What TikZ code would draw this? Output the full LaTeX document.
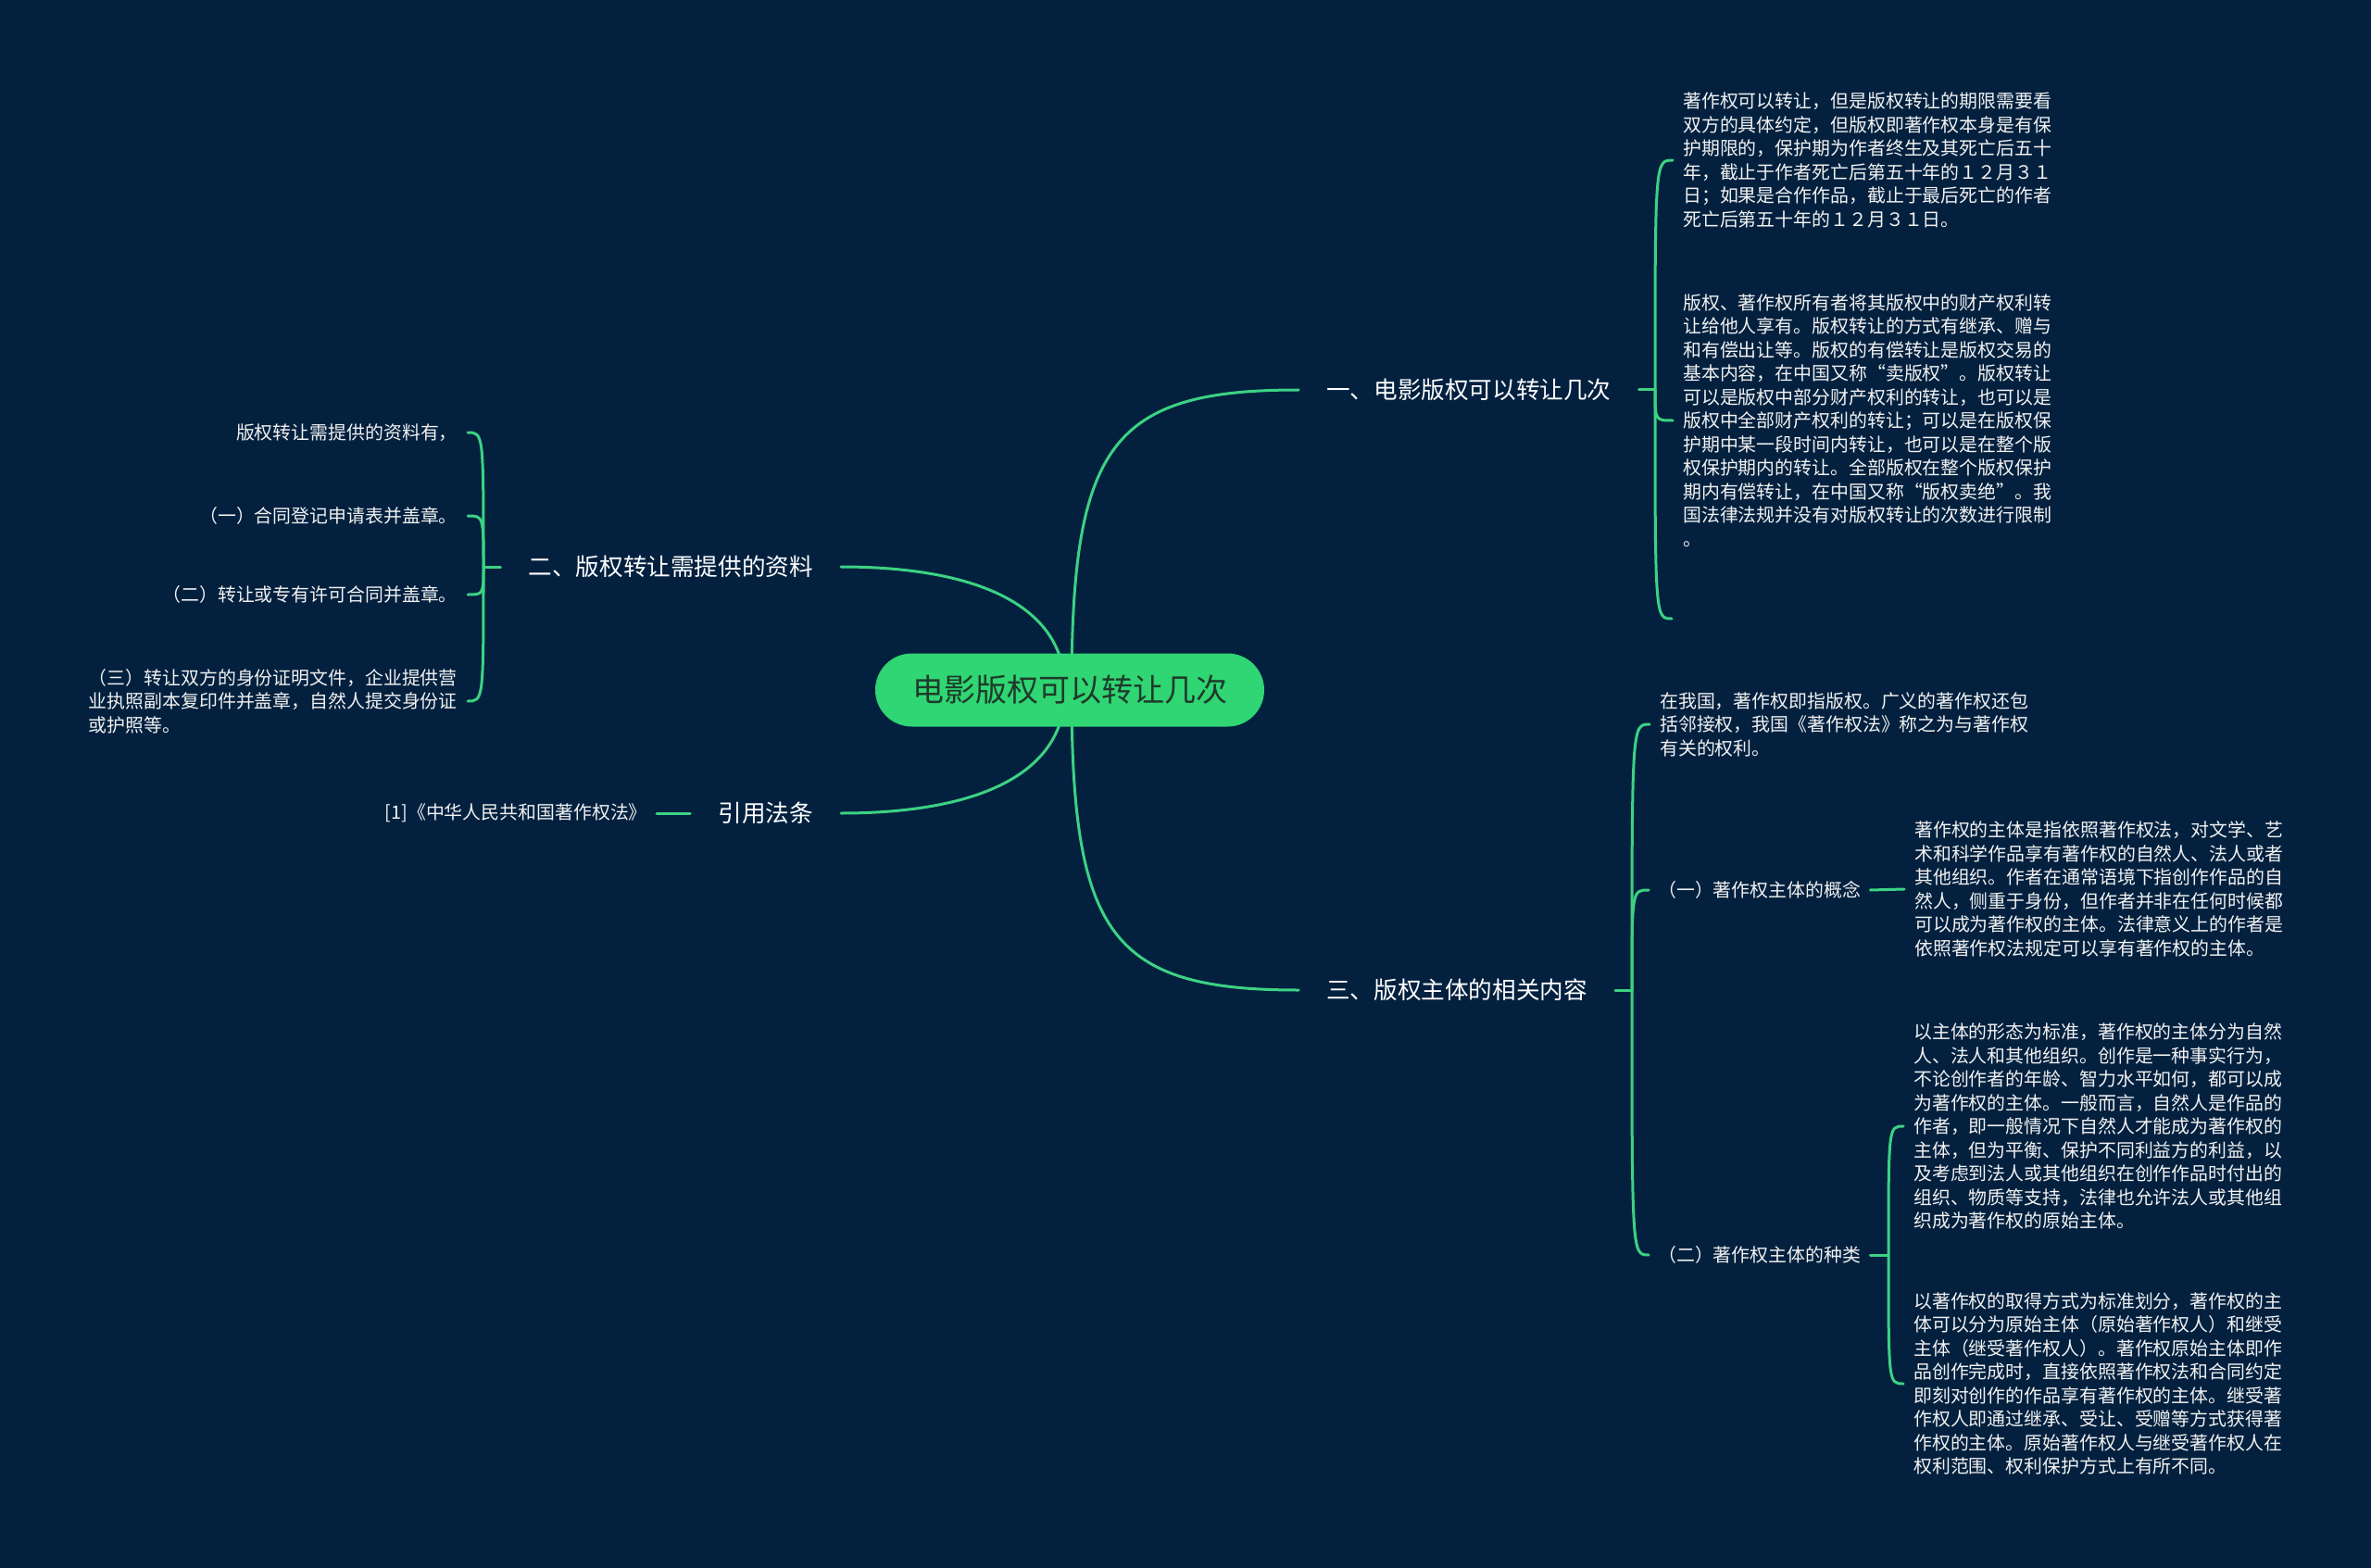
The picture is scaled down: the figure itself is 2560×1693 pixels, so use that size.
\documentclass[tikz,border=0pt]{standalone}
\usepackage{fontspec}
\setmainfont{Noto Sans CJK SC}
\usetikzlibrary{backgrounds}
\definecolor{bgc}{HTML}{03213F}
\definecolor{linec}{HTML}{3CD283}
\definecolor{pillc}{HTML}{2FD673}
\definecolor{pilltext}{HTML}{1F3A2A}
\definecolor{textc}{HTML}{F2F2F2}
\begin{document}
\begin{tikzpicture}[x=1pt,y=-1pt,
  conn/.style={draw=linec, line width=3pt, line cap=round},
  rootnode/.style={fill=pillc, text=pilltext, rounded corners=39.5pt, minimum height=79pt, minimum width=420pt, inner xsep=0pt, font=\fontsize{34}{40}\selectfont},
  lvone/.style={text=white, inner xsep=30pt, inner ysep=4pt, font=\fontsize{25.6}{30}\selectfont},
  lvtwo/.style={text=textc, inner xsep=10pt, inner ysep=3pt, font=\fontsize{19.9}{25.5}\selectfont},
  leaf/.style={text=textc, inner xsep=11pt, inner ysep=2pt, align=left, font=\fontsize{19.9}{25.5}\selectfont},
]
\useasboundingbox (0,0) rectangle (2560,1693);

% root
\node[rootnode] (c) at (1155,745) {电影版权可以转让几次};

% level one
\node[lvone, anchor=west] (n1) at (1402,421) {一、电影版权可以转让几次};
\node[lvone, anchor=west] (n3) at (1402,1069) {三、版权主体的相关内容};
\node[lvone, anchor=east] (n2) at (908,612) {二、版权转让需提供的资料};
\node[lvone, anchor=east] (n4) at (908,878) {引用法条};

% junctions
\coordinate (j1) at (1787,421);
\coordinate (e1) at (1805,668);
\coordinate (j3) at (1762,1069);
\coordinate (j2) at (522,612);
\coordinate (k) at (2039,1355);

% branch one leaves
\node[leaf, anchor=west] (a1) at (1806,173) {著作权可以转让，但是版权转让的期限需要看\\双方的具体约定，但版权即著作权本身是有保\\护期限的，保护期为作者终生及其死亡后五十\\年，截止于作者死亡后第五十年的１２月３１\\日；如果是合作作品，截止于最后死亡的作者\\死亡后第五十年的１２月３１日。};
\node[leaf, anchor=west] (a2) at (1806,454) {版权、著作权所有者将其版权中的财产权利转\\让给他人享有。版权转让的方式有继承、赠与\\和有偿出让等。版权的有偿转让是版权交易的\\基本内容，在中国又称“卖版权”。版权转让\\可以是版权中部分财产权利的转让，也可以是\\版权中全部财产权利的转让；可以是在版权保\\护期中某一段时间内转让，也可以是在整个版\\权保护期内的转让。全部版权在整个版权保护\\期内有偿转让，在中国又称“版权卖绝”。我\\国法律法规并没有对版权转让的次数进行限制\\。};

% branch three
\node[leaf, anchor=west] (b1) at (1781,782) {在我国，著作权即指版权。广义的著作权还包\\括邻接权，我国《著作权法》称之为与著作权\\有关的权利。};
\node[lvtwo, anchor=west] (b2) at (1780,961) {（一）著作权主体的概念};
\node[lvtwo, anchor=west] (b3) at (1780,1355) {（二）著作权主体的种类};
\node[leaf, anchor=west] (b2a) at (2056,960) {著作权的主体是指依照著作权法，对文学、艺\\术和科学作品享有著作权的自然人、法人或者\\其他组织。作者在通常语境下指创作作品的自\\然人，侧重于身份，但作者并非在任何时候都\\可以成为著作权的主体。法律意义上的作者是\\依照著作权法规定可以享有著作权的主体。};
\node[leaf, anchor=west] (b3a) at (2055,1216) {以主体的形态为标准，著作权的主体分为自然\\人、法人和其他组织。创作是一种事实行为，\\不论创作者的年龄、智力水平如何，都可以成\\为著作权的主体。一般而言，自然人是作品的\\作者，即一般情况下自然人才能成为著作权的\\主体，但为平衡、保护不同利益方的利益，以\\及考虑到法人或其他组织在创作作品时付出的\\组织、物质等支持，法律也允许法人或其他组\\织成为著作权的原始主体。};
\node[leaf, anchor=west] (b3b) at (2055,1494) {以著作权的取得方式为标准划分，著作权的主\\体可以分为原始主体（原始著作权人）和继受\\主体（继受著作权人）。著作权原始主体即作\\品创作完成时，直接依照著作权法和合同约定\\即刻对创作的作品享有著作权的主体。继受著\\作权人即通过继承、受让、受赠等方式获得著\\作权的主体。原始著作权人与继受著作权人在\\权利范围、权利保护方式上有所不同。};

% branch two leaves
\node[leaf, anchor=east] (d1) at (505,467) {版权转让需提供的资料有，};
\node[leaf, anchor=east] (d2) at (505,557) {（一）合同登记申请表并盖章。};
\node[leaf, anchor=east] (d3) at (505,642) {（二）转让或专有许可合同并盖章。};
\node[leaf, anchor=east] (d4) at (505,757) {（三）转让双方的身份证明文件，企业提供营\\业执照副本复印件并盖章，自然人提交身份证\\或护照等。};

% branch four leaf
\node[leaf, anchor=east, inner xsep=10pt] (n4a) at (709,878) {[1]《中华人民共和国著作权法》};

\begin{scope}[on background layer]
\fill[bgc] (0,0) rectangle (2560,1693);
% root curves
\draw[conn] ([xshift=2pt]c.center) .. controls +(0,-265) and +(-202,0) .. (n1.west);
\draw[conn] ([xshift=2pt]c.center) .. controls +(0,265) and +(-202,0) .. (n3.west);
\draw[conn] ([xshift=-5pt]c.center) .. controls +(0,-95) and +(140,0) .. (n2.east);
\draw[conn] ([xshift=-5pt]c.center) .. controls +(0,95) and +(140,0) .. (n4.east);
% branch one
\draw[conn] (n1.east) -- (j1);
\draw[conn] (j1) .. controls (j1 |- a1.west) and (j1 |- a1.west) .. (a1.west);
\draw[conn] (j1) .. controls (j1 |- a2.west) and (j1 |- a2.west) .. (a2.west);
\draw[conn] (j1) .. controls (j1 |- e1) and (j1 |- e1) .. (e1);
% branch three
\draw[conn] (n3.east) -- (j3);
\draw[conn] (j3) .. controls (j3 |- b1.west) and (j3 |- b1.west) .. (b1.west);
\draw[conn] (j3) .. controls (j3 |- b2.west) and (j3 |- b2.west) .. (b2.west);
\draw[conn] (j3) .. controls (j3 |- b3.west) and (j3 |- b3.west) .. (b3.west);
\draw[conn] (b2.east) -- (b2a.west);
\draw[conn] (b3.east) -- (k);
\draw[conn] (k) .. controls (k |- b3a.west) and (k |- b3a.west) .. (b3a.west);
\draw[conn] (k) .. controls (k |- b3b.west) and (k |- b3b.west) .. (b3b.west);
% branch two
\draw[conn] (n2.west) -- (j2);
\draw[conn] (j2) .. controls (j2 |- d1.east) and (j2 |- d1.east) .. (d1.east);
\draw[conn] (j2) .. controls (j2 |- d2.east) and (j2 |- d2.east) .. (d2.east);
\draw[conn] (j2) .. controls (j2 |- d3.east) and (j2 |- d3.east) .. (d3.east);
\draw[conn] (j2) .. controls (j2 |- d4.east) and (j2 |- d4.east) .. (d4.east);
% branch four
\draw[conn] (n4.west) -- (n4a.east);
\end{scope}
\end{tikzpicture}
\end{document}
